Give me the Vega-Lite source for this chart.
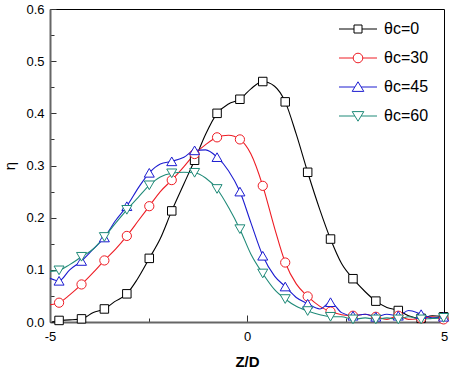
{
  "$schema": "https://vega.github.io/schema/vega-lite/v6.json",
  "width": 394,
  "height": 313,
  "autosize": {"type": "none"},
  "padding": {"left": 50, "top": 9, "right": 14, "bottom": 51},
  "background": "white",
  "config": {"view": {"stroke": "black", "strokeWidth": 1}, "font": "Liberation Sans"},
  "data": {"values": [
    {"s":"θc=0","x":-4.95,"y":0.0,"m":0},
    {"s":"θc=0","x":-4.77,"y":0.003,"m":1},
    {"s":"θc=0","x":-4.5,"y":0.004,"m":0},
    {"s":"θc=0","x":-4.2,"y":0.006,"m":1},
    {"s":"θc=0","x":-3.9,"y":0.018,"m":0},
    {"s":"θc=0","x":-3.62,"y":0.025,"m":1},
    {"s":"θc=0","x":-3.36,"y":0.039,"m":0},
    {"s":"θc=0","x":-3.05,"y":0.054,"m":1},
    {"s":"θc=0","x":-2.8,"y":0.08,"m":0},
    {"s":"θc=0","x":-2.48,"y":0.122,"m":1},
    {"s":"θc=0","x":-2.2,"y":0.16,"m":0},
    {"s":"θc=0","x":-1.91,"y":0.213,"m":1},
    {"s":"θc=0","x":-1.6,"y":0.265,"m":0},
    {"s":"θc=0","x":-1.33,"y":0.31,"m":1},
    {"s":"θc=0","x":-1.05,"y":0.36,"m":0},
    {"s":"θc=0","x":-0.76,"y":0.40,"m":1},
    {"s":"θc=0","x":-0.47,"y":0.418,"m":0},
    {"s":"θc=0","x":-0.18,"y":0.427,"m":1},
    {"s":"θc=0","x":0.1,"y":0.447,"m":0},
    {"s":"θc=0","x":0.40,"y":0.461,"m":1},
    {"s":"θc=0","x":0.7,"y":0.452,"m":0},
    {"s":"θc=0","x":0.97,"y":0.422,"m":1},
    {"s":"θc=0","x":1.25,"y":0.36,"m":0},
    {"s":"θc=0","x":1.54,"y":0.287,"m":1},
    {"s":"θc=0","x":1.85,"y":0.215,"m":0},
    {"s":"θc=0","x":2.12,"y":0.159,"m":1},
    {"s":"θc=0","x":2.4,"y":0.112,"m":0},
    {"s":"θc=0","x":2.69,"y":0.083,"m":1},
    {"s":"θc=0","x":3.0,"y":0.058,"m":0},
    {"s":"θc=0","x":3.27,"y":0.040,"m":1},
    {"s":"θc=0","x":3.55,"y":0.028,"m":0},
    {"s":"θc=0","x":3.84,"y":0.022,"m":1},
    {"s":"θc=0","x":4.1,"y":0.012,"m":0},
    {"s":"θc=0","x":4.42,"y":0.007,"m":1},
    {"s":"θc=0","x":4.7,"y":0.012,"m":0},
    {"s":"θc=0","x":4.99,"y":0.01,"m":1},

    {"s":"θc=30","x":-5.0,"y":0.033,"m":0},
    {"s":"θc=30","x":-4.77,"y":0.037,"m":1},
    {"s":"θc=30","x":-4.5,"y":0.052,"m":0},
    {"s":"θc=30","x":-4.2,"y":0.072,"m":1},
    {"s":"θc=30","x":-3.9,"y":0.095,"m":0},
    {"s":"θc=30","x":-3.62,"y":0.118,"m":1},
    {"s":"θc=30","x":-3.33,"y":0.14,"m":0},
    {"s":"θc=30","x":-3.05,"y":0.165,"m":1},
    {"s":"θc=30","x":-2.75,"y":0.195,"m":0},
    {"s":"θc=30","x":-2.48,"y":0.222,"m":1},
    {"s":"θc=30","x":-2.2,"y":0.25,"m":0},
    {"s":"θc=30","x":-1.91,"y":0.272,"m":1},
    {"s":"θc=30","x":-1.6,"y":0.298,"m":0},
    {"s":"θc=30","x":-1.33,"y":0.322,"m":1},
    {"s":"θc=30","x":-1.05,"y":0.34,"m":0},
    {"s":"θc=30","x":-0.76,"y":0.354,"m":1},
    {"s":"θc=30","x":-0.47,"y":0.358,"m":0},
    {"s":"θc=30","x":-0.18,"y":0.350,"m":1},
    {"s":"θc=30","x":0.1,"y":0.322,"m":0},
    {"s":"θc=30","x":0.40,"y":0.261,"m":1},
    {"s":"θc=30","x":0.7,"y":0.18,"m":0},
    {"s":"θc=30","x":0.97,"y":0.114,"m":1},
    {"s":"θc=30","x":1.25,"y":0.073,"m":0},
    {"s":"θc=30","x":1.54,"y":0.049,"m":1},
    {"s":"θc=30","x":1.85,"y":0.03,"m":0},
    {"s":"θc=30","x":2.12,"y":0.02,"m":1},
    {"s":"θc=30","x":2.4,"y":0.014,"m":0},
    {"s":"θc=30","x":2.69,"y":0.012,"m":1},
    {"s":"θc=30","x":3.0,"y":0.015,"m":0},
    {"s":"θc=30","x":3.27,"y":0.01,"m":1},
    {"s":"θc=30","x":3.55,"y":0.005,"m":0},
    {"s":"θc=30","x":3.84,"y":0.012,"m":1},
    {"s":"θc=30","x":4.1,"y":0.005,"m":0},
    {"s":"θc=30","x":4.42,"y":0.007,"m":1},
    {"s":"θc=30","x":4.7,"y":0.01,"m":0},
    {"s":"θc=30","x":4.99,"y":0.005,"m":1},

    {"s":"θc=45","x":-5.0,"y":0.084,"m":0},
    {"s":"θc=45","x":-4.77,"y":0.079,"m":1},
    {"s":"θc=45","x":-4.5,"y":0.1,"m":0},
    {"s":"θc=45","x":-4.2,"y":0.117,"m":1},
    {"s":"θc=45","x":-3.9,"y":0.14,"m":0},
    {"s":"θc=45","x":-3.62,"y":0.162,"m":1},
    {"s":"θc=45","x":-3.33,"y":0.195,"m":0},
    {"s":"θc=45","x":-3.05,"y":0.222,"m":1},
    {"s":"θc=45","x":-2.75,"y":0.258,"m":0},
    {"s":"θc=45","x":-2.48,"y":0.286,"m":1},
    {"s":"θc=45","x":-2.2,"y":0.303,"m":0},
    {"s":"θc=45","x":-1.91,"y":0.308,"m":1},
    {"s":"θc=45","x":-1.6,"y":0.316,"m":0},
    {"s":"θc=45","x":-1.33,"y":0.329,"m":1},
    {"s":"θc=45","x":-1.05,"y":0.33,"m":0},
    {"s":"θc=45","x":-0.76,"y":0.316,"m":1},
    {"s":"θc=45","x":-0.47,"y":0.29,"m":0},
    {"s":"θc=45","x":-0.18,"y":0.25,"m":1},
    {"s":"θc=45","x":0.1,"y":0.19,"m":0},
    {"s":"θc=45","x":0.40,"y":0.127,"m":1},
    {"s":"θc=45","x":0.7,"y":0.088,"m":0},
    {"s":"θc=45","x":0.97,"y":0.068,"m":1},
    {"s":"θc=45","x":1.25,"y":0.047,"m":0},
    {"s":"θc=45","x":1.54,"y":0.035,"m":1},
    {"s":"θc=45","x":1.85,"y":0.025,"m":0},
    {"s":"θc=45","x":2.12,"y":0.038,"m":1},
    {"s":"θc=45","x":2.4,"y":0.018,"m":0},
    {"s":"θc=45","x":2.69,"y":0.012,"m":1},
    {"s":"θc=45","x":3.0,"y":0.015,"m":0},
    {"s":"θc=45","x":3.27,"y":0.01,"m":1},
    {"s":"θc=45","x":3.55,"y":0.015,"m":0},
    {"s":"θc=45","x":3.84,"y":0.012,"m":1},
    {"s":"θc=45","x":4.1,"y":0.022,"m":0},
    {"s":"θc=45","x":4.42,"y":0.015,"m":1},
    {"s":"θc=45","x":4.7,"y":0.008,"m":0},
    {"s":"θc=45","x":4.99,"y":0.01,"m":1},

    {"s":"θc=60","x":-5.0,"y":0.097,"m":0},
    {"s":"θc=60","x":-4.77,"y":0.099,"m":1},
    {"s":"θc=60","x":-4.5,"y":0.11,"m":0},
    {"s":"θc=60","x":-4.2,"y":0.125,"m":1},
    {"s":"θc=60","x":-3.9,"y":0.14,"m":0},
    {"s":"θc=60","x":-3.62,"y":0.163,"m":1},
    {"s":"θc=60","x":-3.33,"y":0.19,"m":0},
    {"s":"θc=60","x":-3.05,"y":0.215,"m":1},
    {"s":"θc=60","x":-2.75,"y":0.24,"m":0},
    {"s":"θc=60","x":-2.48,"y":0.262,"m":1},
    {"s":"θc=60","x":-2.2,"y":0.278,"m":0},
    {"s":"θc=60","x":-1.91,"y":0.285,"m":1},
    {"s":"θc=60","x":-1.6,"y":0.287,"m":0},
    {"s":"θc=60","x":-1.33,"y":0.286,"m":1},
    {"s":"θc=60","x":-1.05,"y":0.276,"m":0},
    {"s":"θc=60","x":-0.76,"y":0.255,"m":1},
    {"s":"θc=60","x":-0.47,"y":0.22,"m":0},
    {"s":"θc=60","x":-0.18,"y":0.178,"m":1},
    {"s":"θc=60","x":0.1,"y":0.13,"m":0},
    {"s":"θc=60","x":0.40,"y":0.093,"m":1},
    {"s":"θc=60","x":0.7,"y":0.062,"m":0},
    {"s":"θc=60","x":0.97,"y":0.044,"m":1},
    {"s":"θc=60","x":1.25,"y":0.03,"m":0},
    {"s":"θc=60","x":1.54,"y":0.021,"m":1},
    {"s":"θc=60","x":1.85,"y":0.014,"m":0},
    {"s":"θc=60","x":2.12,"y":0.01,"m":1},
    {"s":"θc=60","x":2.4,"y":0.01,"m":0},
    {"s":"θc=60","x":2.69,"y":0.005,"m":1},
    {"s":"θc=60","x":3.0,"y":0.008,"m":0},
    {"s":"θc=60","x":3.27,"y":0.005,"m":1},
    {"s":"θc=60","x":3.55,"y":0.008,"m":0},
    {"s":"θc=60","x":3.84,"y":0.005,"m":1},
    {"s":"θc=60","x":4.1,"y":0.01,"m":0},
    {"s":"θc=60","x":4.42,"y":0.005,"m":1},
    {"s":"θc=60","x":4.7,"y":0.007,"m":0},
    {"s":"θc=60","x":4.99,"y":0.008,"m":1}
  ]},
  "encoding": {
    "x": {
      "field": "x", "type": "quantitative",
      "scale": {"domain": [-5, 5], "nice": false, "zero": false},
      "axis": {
        "title": "Z/D",
        "values": [-5, -2.5, 0, 2.5, 5],
        "labelExpr": "datum.value % 5 == 0 ? '' + datum.value : ''",
        "grid": false,
        "domainColor": "#666", "domainWidth": 2,
        "tickColor": "#333", "tickWidth": 1,
        "tickSize": {"condition": {"test": "datum.value % 5 == 0", "value": -7}, "value": -4},
        "labelPadding": 15,
        "labelFlush": false, "labelOverlap": false,
        "labelFontSize": 13, "labelColor": "black", "labelFont": "Liberation Sans",
        "titleFontSize": 15, "titleFontWeight": "bold", "titleColor": "black", "titleFont": "Liberation Sans",
        "titlePadding": 8
      }
    },
    "y": {
      "field": "y", "type": "quantitative",
      "scale": {"domain": [0, 0.6], "nice": false, "zero": true},
      "axis": {
        "title": "η",
        "values": [0, 0.05, 0.1, 0.15, 0.2, 0.25, 0.3, 0.35, 0.4, 0.45, 0.5, 0.55, 0.6],
        "labelExpr": "round(datum.value * 100) % 10 == 0 ? format(datum.value, '.1f') : ''",
        "grid": false,
        "domainColor": "#666", "domainWidth": 2,
        "tickColor": "#333", "tickWidth": 1,
        "tickSize": {"condition": {"test": "round(datum.value * 100) % 10 == 0", "value": -6}, "value": -4},
        "labelPadding": 12,
        "labelFlush": false, "labelOverlap": false,
        "labelFontSize": 13, "labelColor": "black", "labelFont": "Liberation Sans",
        "titleFontSize": 15, "titleFontWeight": "normal", "titleColor": "black", "titleFont": "Liberation Sans",
        "titlePadding": 8
      }
    },
    "color": {
      "field": "s", "type": "nominal",
      "scale": {"domain": ["θc=0", "θc=30", "θc=45", "θc=60"], "range": ["#000000", "#ee1c24", "#1c1cd0", "#1f8a78"]},
      "legend": {
        "orient": "none", "legendX": 300, "legendY": 12,
        "title": null,
        "labelFontSize": 16, "labelFont": "Liberation Sans", "labelColor": "black",
        "symbolSize": 64, "labelOffset": 18, "rowPadding": 13, "padding": 0,
        "symbolStrokeWidth": 1, "symbolFillColor": "white", "symbolOpacity": 1,
        "encode": {
          "symbols": {
            "update": {
              "shape": {"signal": "['M-4.75,0H-1M1,0H4.75M-1,-1H1V1H-1Z','M-4.75,0H-1.2M1.2,0H4.75M-1.2,0A1.2,1.2,0,1,1,1.2,0A1.2,1.2,0,1,1,-1.2,0Z','M-4.75,0H-0.8M0.8,0H4.75M0,-1.3L1.45,1.1L-1.45,1.1Z','M-4.75,0H-0.8M0.8,0H4.75M0,1.3L1.45,-1.1L-1.45,-1.1Z'][indexof(['θc=0','θc=30','θc=45','θc=60'], datum.value)]"},
              "fill": {"value": "white"},
              "stroke": {"scale": "color", "field": "value"},
              "strokeWidth": {"value": 1},
              "opacity": {"value": 1},
              "size": {"value": 64}
            }
          }
        }
      }
    }
  },
  "layer": [
    {"mark": {"type": "line", "interpolate": "monotone", "strokeWidth": 1.1}},
    {
      "transform": [{"filter": "datum.m == 1 && datum.s == 'θc=0'"}],
      "mark": {"type": "point", "shape": "square", "filled": false, "fill": "white", "size": 72, "strokeWidth": 1, "opacity": 1}
    },
    {
      "transform": [{"filter": "datum.m == 1 && datum.s == 'θc=30'"}],
      "mark": {"type": "point", "shape": "circle", "filled": false, "fill": "white", "size": 85, "strokeWidth": 1, "opacity": 1}
    },
    {
      "transform": [{"filter": "datum.m == 1 && datum.s == 'θc=45'"}],
      "mark": {"type": "point", "shape": "triangle-up", "filled": false, "fill": "white", "size": 100, "strokeWidth": 1, "opacity": 1}
    },
    {
      "transform": [{"filter": "datum.m == 1 && datum.s == 'θc=60'"}],
      "mark": {"type": "point", "shape": "triangle-down", "filled": false, "fill": "white", "size": 100, "strokeWidth": 1, "opacity": 1}
    }
  ]
}
